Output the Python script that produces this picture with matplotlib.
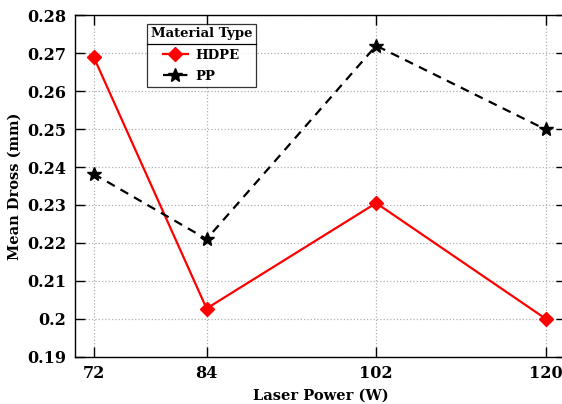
import matplotlib
matplotlib.use("Agg")
import matplotlib.pyplot as plt
from matplotlib.lines import Line2D

# laser power settings and mean dross heights (mm)
power = [72, 84, 102, 120]
hdpe = [0.2691, 0.2027, 0.2305, 0.2000]
pp = [0.2382, 0.2210, 0.2720, 0.2499]
yticks = [0.19, 0.2, 0.21, 0.22, 0.23, 0.24, 0.25, 0.26, 0.27, 0.28]
ytick_labels = ["0.19", "0.2", "0.21", "0.22", "0.23", "0.24", "0.25", "0.26", "0.27", "0.28"]

plt.rcParams["font.family"] = "DejaVu Serif"
plt.rcParams["font.weight"] = "bold"

W, H = 562, 404
right_px = 566.0
fig = plt.figure(figsize=(W / 100, H / 100), dpi=100)
ax = fig.add_axes([74.7 / W, 1 - 356.7 / H, (right_px - 74.7) / W, (356.7 - 15.3) / H])

ax.plot(power, hdpe, color="red", linestyle="-", linewidth=1.6,
        marker="D", markersize=7, label="HDPE")
ax.plot(power, pp, color="black", linestyle=(0, (4, 3)), linewidth=1.6,
        marker="*", markersize=10, label="PP")

ax.set_xlim(70, 72 + (right_px - 93.3) / 9.425)
ax.set_ylim(0.19, 0.28)
ax.set_xticks(power)
ax.set_xticklabels([str(p) for p in power])
ax.set_yticks(yticks)
ax.set_yticklabels(ytick_labels)
ax.tick_params(direction="in", top=True, right=True, length=7, width=1,
               labelsize=11.5, pad=6)
ax.grid(True, color="#b0b0b0", linestyle=":", linewidth=0.9)
for s in ax.spines.values():
    s.set_linewidth(1.0)
ax.spines["right"].set_visible(False)

ax.set_xlabel("Laser Power (W)", fontsize=10.5, fontweight="bold", labelpad=5)
ax.set_ylabel("Mean Dross (mm)", fontsize=10.5, fontweight="bold", labelpad=4)

leg = fig.legend(loc="upper left", bbox_to_anchor=(146.7 / W, 1 - 23.5 / H),
                 borderaxespad=0, title="Material Type", fontsize=9.5,
                 title_fontproperties={"weight": "bold", "size": 9.5},
                 frameon=True, fancybox=False, edgecolor="black",
                 handlelength=1.9, handletextpad=0.6, borderpad=0.3,
                 labelspacing=0.6)
leg.get_frame().set_linewidth(0.9)
leg._legend_box.sep = 6
for t in leg.get_texts():
    t.set_fontweight("bold")

# separator under the legend title
fig.canvas.draw()
r = fig.canvas.get_renderer()
fb = leg.get_frame().get_window_extent(r)
tb = leg.get_title().get_window_extent(r)
yline = (tb.y0 - 4) / H
fig.add_artist(Line2D([fb.x0 / W, fb.x1 / W], [yline, yline],
                      color="black", linewidth=0.9, zorder=10))

fig.savefig("out.png", dpi=100)
